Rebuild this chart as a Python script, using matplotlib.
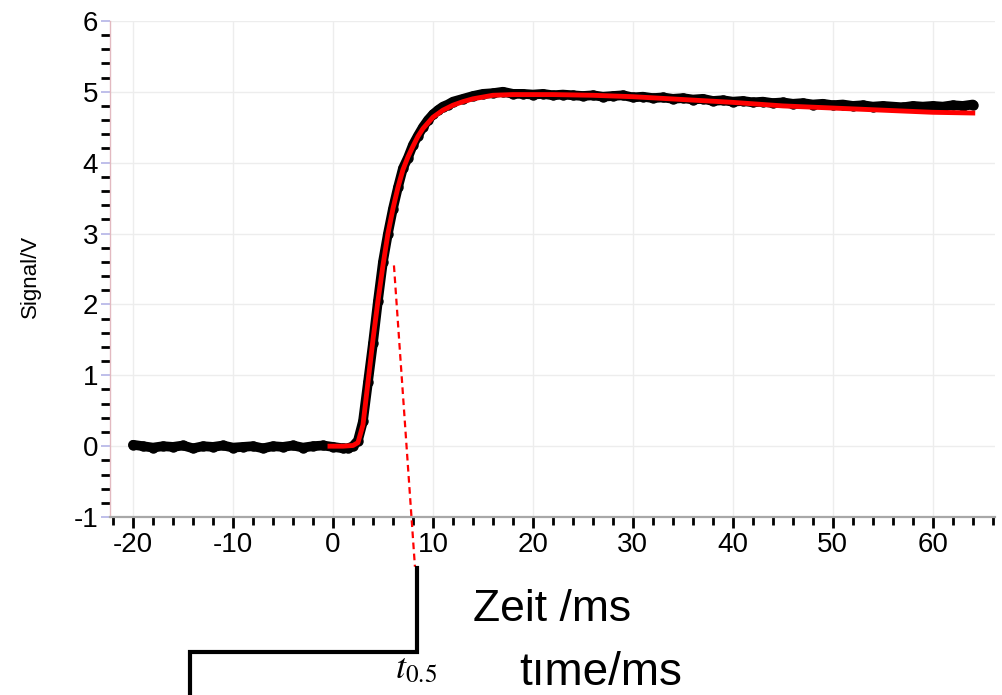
import numpy as np
import matplotlib.pyplot as plt
from matplotlib.ticker import MultipleLocator

plt.rcParams['font.family'] = ['Liberation Sans', 'DejaVu Sans']
plt.rcParams['mathtext.fontset'] = 'stix'
plt.rcParams['axes.unicode_minus'] = False

t_base = np.arange(-20, 2, 1.0)
v_base = [0.02, 0.0, -0.02, 0.0, -0.01, 0.01, -0.03, 0.0, -0.01, 0.01, -0.02,
          -0.01, 0.0, -0.03, 0.0, -0.01, 0.01, -0.02, 0.0, 0.01, -0.01, -0.03]
t_rise = np.arange(1.5, 12.5, 0.5)
v_rise = [-0.03, 0.0, 0.08, 0.35, 0.9, 1.45, 2.05, 2.6, 3.0, 3.35, 3.65,
          3.92, 4.07, 4.25, 4.38, 4.5, 4.6, 4.68, 4.74, 4.79, 4.82, 4.86]
t_plat = np.arange(13, 65, 1.0)
v_plat = [4.9, 4.94, 4.97, 4.98, 5.0, 4.97, 4.97, 4.96, 4.97, 4.95,
          4.96, 4.95, 4.94, 4.95, 4.93, 4.94, 4.95, 4.92, 4.93, 4.91,
          4.92, 4.9, 4.91, 4.89, 4.9, 4.87, 4.88, 4.86, 4.87, 4.85,
          4.86, 4.84, 4.85, 4.83, 4.84, 4.82, 4.83, 4.81, 4.82, 4.8,
          4.81, 4.79, 4.8, 4.79, 4.78, 4.8, 4.79, 4.8, 4.79, 4.81,
          4.8, 4.82]

# fitted curve (red)
t_fit = [-0.3, 1.0, 2.0, 2.5, 3.0, 3.5, 4.0, 4.5, 5.0, 5.5, 6.0, 6.5, 7.0, 7.5,
         8.0, 8.5, 9.0, 10.0, 11.0, 12.0, 13.0, 14.0, 16.0, 18.0, 22.0, 26.0,
         30.0, 35.0, 40.0, 45.0, 50.0, 55.0, 60.0, 64.0]
v_fit = [0.0, 0.0, 0.01, 0.05, 0.3, 0.9, 1.5, 2.05, 2.55, 3.0, 3.35, 3.65, 3.9,
         4.08, 4.23, 4.37, 4.48, 4.64, 4.74, 4.81, 4.86, 4.9, 4.95, 4.96, 4.96,
         4.95, 4.93, 4.89, 4.85, 4.80, 4.77, 4.74, 4.71, 4.70]

# t_0.5 marker (dashed tangent and bracket), in data units
dash_x = [6.1, 8.2]
dash_y = [2.55, -1.7]
t_half = 8.4
bracket_x = [t_half, t_half, -14.3, -14.3]
bracket_y = [-1.72, -2.91, -2.91, -3.8]

t_meas = np.concatenate([t_base, t_rise, t_plat])
v_meas = np.concatenate([v_base, v_rise, v_plat])

fig = plt.figure(figsize=(10.02, 6.95), dpi=100)
ax = fig.add_axes([0.1098, 0.256, 0.883, 0.714])

ax.plot(t_meas, v_meas, color='black', lw=7, marker='o', ms=6.5,
        solid_capstyle='round', solid_joinstyle='round', zorder=3)
ax.plot(t_fit, v_fit, color='#ff0000', lw=3.5, zorder=4)
ax.plot(dash_x, dash_y, color='#ff0000', lw=1.6, ls=(0, (3, 2)), zorder=5, clip_on=False)
ax.plot(bracket_x, bracket_y, color='black', lw=3, clip_on=False,
        solid_joinstyle='miter', zorder=5)

ax.set_xlim(-22.3, 66.2)
ax.set_ylim(-1, 6)
ax.xaxis.set_major_locator(MultipleLocator(10))
ax.xaxis.set_minor_locator(MultipleLocator(2))
ax.yaxis.set_major_locator(MultipleLocator(1))
ax.yaxis.set_minor_locator(MultipleLocator(0.2))
ax.grid(which='major', color='#ededed', lw=1)
ax.set_axisbelow(True)

for s in ['top', 'right']:
    ax.spines[s].set_visible(False)
ax.spines['left'].set_color('#e3b9c0')
ax.spines['left'].set_linewidth(1)
ax.spines['bottom'].set_color('#a8a8a8')
ax.spines['bottom'].set_linewidth(1.6)

ax.tick_params(axis='x', which='major', length=8, width=2, color='black',
               labelsize=20, pad=3)
ax.tick_params(axis='x', which='minor', length=6, width=2, color='black')
ax.tick_params(axis='y', which='major', length=6.5, width=1.2, color='#b4b4e6',
               labelsize=20, pad=2)
ax.tick_params(axis='y', which='minor', length=6.5, width=2, color='black')

ax.set_ylabel('Signal/V', fontsize=16)
ax.yaxis.set_label_coords(-0.078, 0.484)
ax.set_xlabel('Zeit /ms', fontsize=32)
ax.xaxis.set_label_coords(0.5, -0.145)

fig.text(0.599, 0.0144, 'tıme/ms', fontsize=33, ha='center', va='baseline')
fig.text(0.415, 0.024, r'$t_{0.5}$', fontsize=26, ha='center', va='baseline')

fig.savefig('out.png', dpi=100)
